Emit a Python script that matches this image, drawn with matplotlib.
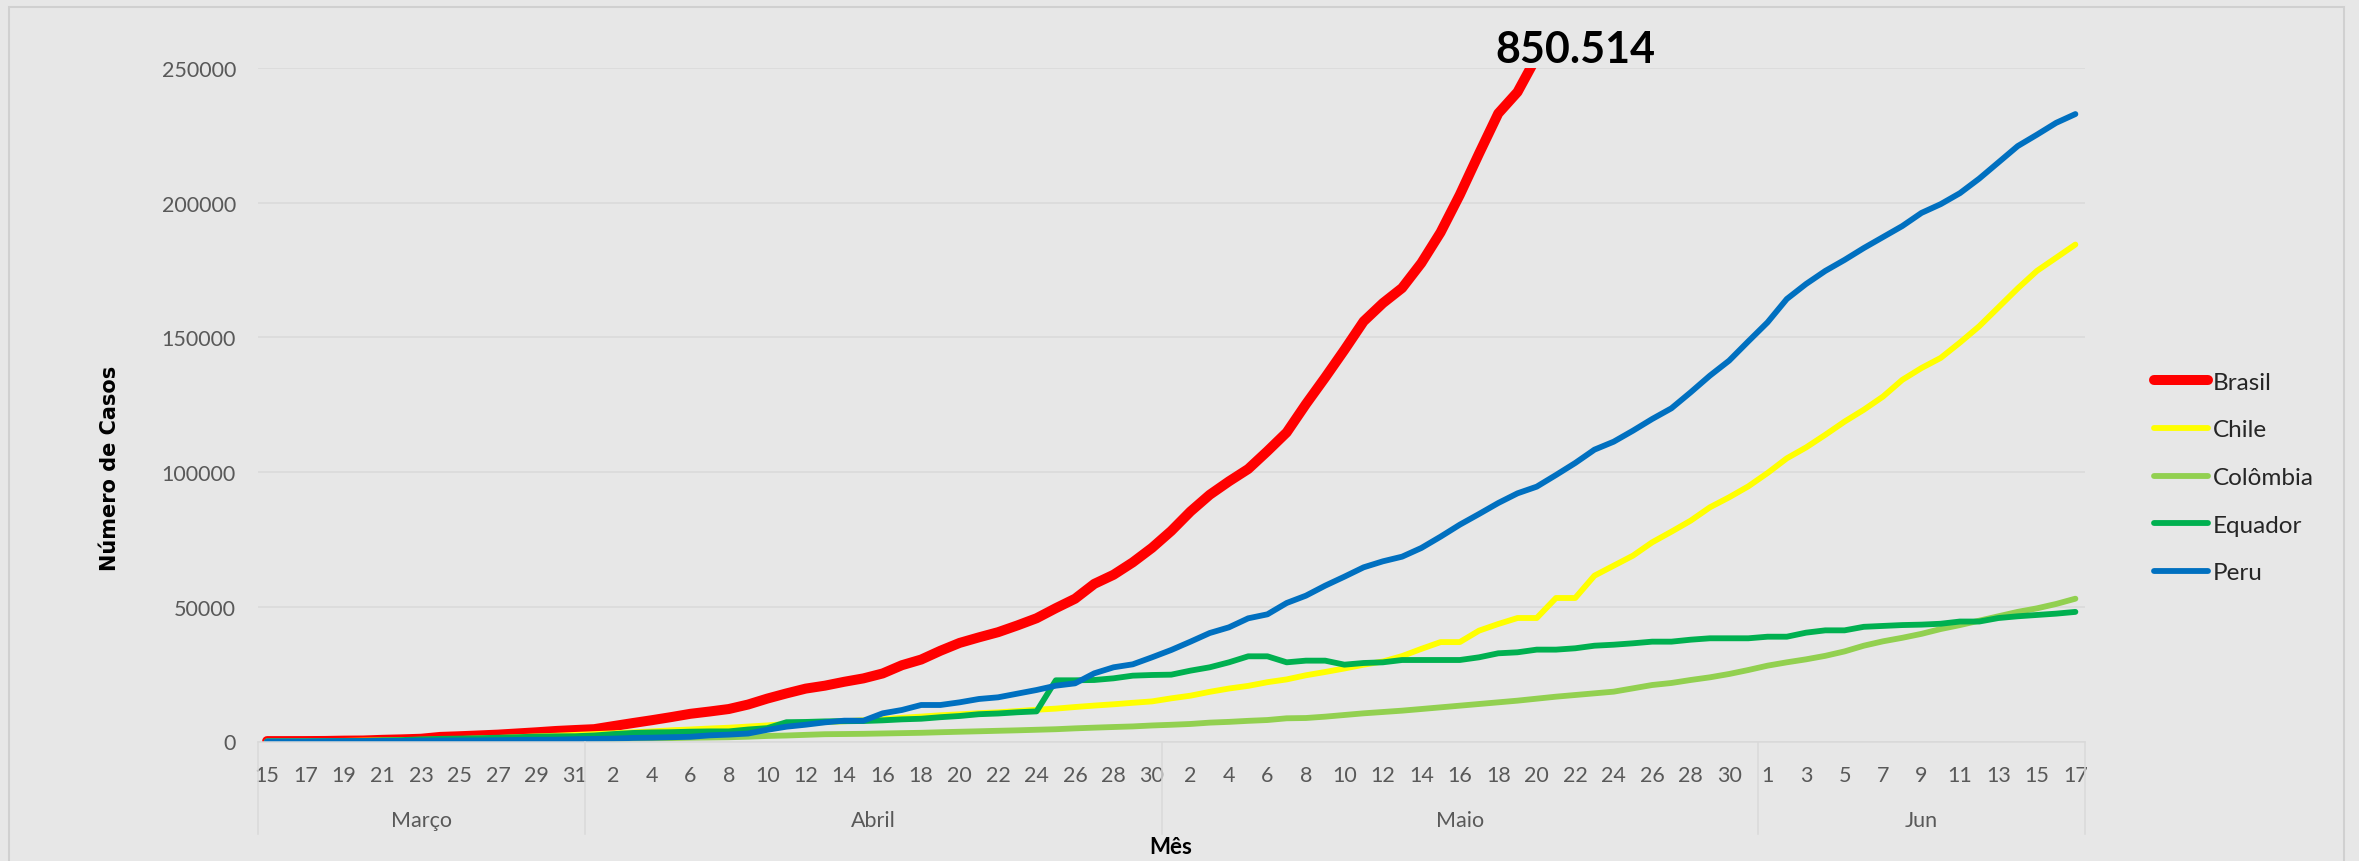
import numpy as np
import matplotlib
matplotlib.use("Agg")
import matplotlib.pyplot as plt
from matplotlib.patches import Rectangle
from matplotlib.ticker import StrMethodFormatter

# categorias: mês e intervalo de dias mostrados
meses = ["Março", "Abril", "Maio", "Jun"]
dias_por_mes = [(15, 31), (1, 30), (1, 31), (1, 17)]

# casos acumulados (Brasil sai do eixo em ~250000)
brasil = [151, 151, 162, 200, 321, 372, 621, 793, 1021, 1700, 1950, 2247, 2554,
          2985, 3417, 3904, 4256, 4579, 5717, 6836, 7910, 9056, 10278, 11130,
          12056, 13717, 15927, 17857, 19638, 20727, 22169, 23430, 25262, 28320,
          30425, 33682, 36599, 38654, 40581, 43079, 45757, 49492, 52995, 58509,
          61888, 66501, 71886, 78162, 85380, 91589, 96559, 101147, 107780,
          114715, 125218, 135106, 145328, 155939, 162699, 168331, 177589,
          188974, 202918, 218223, 233142, 241080, 254220, 271628, 291579,
          310087, 330890, 347398, 363211, 374898, 391222, 411821, 438238,
          465166, 498440, 514849, 526447, 555383, 584016, 614941, 645771,
          672846, 691758, 707412, 739503, 772416, 802828, 828810, 850514]
chile = [61, 75, 156, 201, 238, 342, 434, 537, 632, 746, 922, 1142, 1306, 1610,
         1909, 2139, 2449, 2738, 3031, 3404, 3737, 4161, 4471, 4815, 5116, 5546,
         5972, 6501, 6927, 7213, 7525, 7917, 8273, 8807, 9252, 9730, 10088,
         10507, 10832, 11296, 11800, 12200, 12800, 13331, 13813, 14365, 14885,
         16023, 17008, 18435, 19663, 20643, 22016, 23048, 24581, 25800, 27100,
         28500, 29700, 31700, 34381, 36900, 36900, 41150, 43620, 45840, 45840,
         53270, 53270, 61560, 65270, 68980, 73930, 77880, 81970, 86920, 90640,
         94720, 99670, 105110, 109150, 113840, 118740, 123140, 128030, 134230,
         138630, 142390, 148090, 154130, 161140, 168160, 174680, 179570, 184470]
colombia = [16, 24, 34, 54, 65, 93, 102, 128, 196, 231, 277, 378, 470, 491, 539,
            608, 702, 798, 906, 1065, 1161, 1267, 1406, 1485, 1579, 1780, 2054,
            2223, 2473, 2709, 2776, 2852, 2979, 3105, 3233, 3439, 3621, 3792,
            3977, 4149, 4356, 4561, 4881, 5142, 5379, 5597, 5949, 6207, 6507,
            7006, 7285, 7668, 7973, 8613, 8720, 9220, 9840, 10460, 10950, 11450,
            12060, 12680, 13300, 13920, 14540, 15160, 15900, 16640, 17260, 17880,
            18500, 19730, 20970, 21720, 22830, 23820, 25060, 26540, 28150, 29390,
            30500, 31800, 33440, 35560, 37190, 38490, 39960, 41750, 43220, 44850,
            46480, 48110, 49420, 51050, 53010]
equador = [28, 37, 58, 111, 168, 199, 426, 532, 789, 981, 1082, 1211, 1403, 1595,
           1823, 1924, 1962, 2240, 2748, 3163, 3368, 3465, 3646, 3747, 3747, 4450,
           4965, 7161, 7257, 7466, 7529, 7603, 7858, 8225, 8450, 9022, 9468,
           10128, 10398, 10850, 11183, 22719, 22719, 22830, 23450, 24440, 24690,
           24810, 26300, 27540, 29390, 31620, 31620, 29390, 30010, 30010, 28520,
           29140, 29390, 30250, 30250, 30250, 30250, 31250, 32740, 33110, 34100,
           34100, 34600, 35560, 35930, 36450, 37060, 37060, 37790, 38310, 38310,
           38310, 38900, 38900, 40400, 41260, 41260, 42570, 42900, 43220, 43380,
           43710, 44530, 44530, 45830, 46480, 46970, 47460, 48110]
peru = [28, 38, 43, 86, 117, 145, 234, 234, 318, 363, 395, 416, 480, 580, 635, 671,
        852, 950, 1065, 1323, 1414, 1595, 1746, 2281, 2561, 2954, 4342, 5500,
        6240, 7110, 7730, 7730, 10460, 11700, 13550, 13550, 14540, 15780, 16400,
        17760, 19120, 20720, 21590, 25310, 27540, 28650, 31250, 33970, 37060,
        40270, 42380, 45720, 47210, 51410, 54130, 57840, 61180, 64650, 66880,
        68610, 71830, 76030, 80480, 84450, 88530, 92120, 94600, 98920, 103380,
        108330, 111290, 115370, 119710, 123680, 129610, 135800, 141370, 148550,
        155600, 164260, 169830, 174680, 178760, 183160, 187240, 191320, 196210,
        199470, 203550, 208930, 214960, 221000, 225240, 229640, 232900]

series = [("Brasil", brasil, "#FF0000", 7.2),
          ("Chile", chile, "#FFFF00", 4.2),
          ("Colômbia", colombia, "#92D050", 4.2),
          ("Equador", equador, "#00B050", 4.2),
          ("Peru", peru, "#0070C0", 4.2)]

dias = []
limites = []
for a, b in dias_por_mes:
    limites.append(len(dias))
    dias += [str(d) for d in range(a, b + 1)]
limites.append(len(dias))

W, H = 2359, 862
BG = "#E7E7E7"
GRID = "#D9D9D9"
TXT = "#595959"

plt.rcParams["font.family"] = ["Lato", "DejaVu Sans"]

fig = plt.figure(figsize=(W / 100, H / 100), dpi=100, facecolor=BG)
ax = fig.add_axes([257.5 / W, (H - 742.5) / H, (2085 - 257.5) / W, (742.5 - 69) / H])
ax.set_facecolor(BG)

x = np.arange(len(dias))
for nome, vals, cor, lw in series:
    ax.plot(x[:len(vals)], vals, color=cor, lw=lw, label=nome,
            solid_capstyle="round", solid_joinstyle="round")

ax.set_xlim(-0.5, len(dias) - 0.5)
ax.set_ylim(0, 250000)

for s in ["top", "right", "left"]:
    ax.spines[s].set_visible(False)
ax.spines["bottom"].set_color(GRID)
ax.spines["bottom"].set_linewidth(1.1)

ax.set_yticks(np.arange(0, 250001, 50000))
ax.yaxis.set_major_formatter(StrMethodFormatter("{x:.0f}"))
ax.grid(axis="y", color=GRID, lw=1.1)
ax.set_axisbelow(True)
ax.tick_params(axis="y", length=0, pad=15.5, labelsize=15.5, labelcolor=TXT)

ax.set_xticks(x[::2])
ax.set_xticklabels(dias[::2])
ax.tick_params(axis="x", length=0, pad=17, labelsize=15.5, labelcolor=TXT)

# rótulos dos meses e divisórias
trans = ax.get_xaxis_transform()
for i, mes in enumerate(meses):
    centro = (limites[i] + limites[i + 1] - 1) / 2
    ax.text(centro, -0.1166, mes, transform=trans, ha="center", va="center",
            fontsize=15.5, color=TXT)
for b in limites:
    ax.plot([b - 0.5, b - 0.5], [0, -0.1373], transform=trans, clip_on=False,
            color=GRID, lw=1.1)

ax.annotate(f"{brasil[-1]:,}".replace(",", "."), xy=(68, 250000), xytext=(0, 4.5),
            textcoords="offset points", ha="center", va="baseline",
            fontsize=31, fontweight="bold", annotation_clip=False)

leg = ax.legend(loc="center left", bbox_to_anchor=(2154 / W, (H - 478.5) / H),
                bbox_transform=fig.transFigure, frameon=False, fontsize=17.5,
                handlelength=2.22, handletextpad=0.2, labelspacing=1.09,
                borderpad=0, borderaxespad=0)
for t in leg.get_texts():
    t.set_color("#262626")

fig.text(110 / W, 1 - 468 / H, "Número de Casos", rotation=90, ha="center",
         va="center", fontsize=15, fontweight="bold", family="DejaVu Sans")
fig.text(1171 / W, 1 - 848 / H, "Mês", ha="center", va="center",
         fontsize=16, fontweight="bold")

fig.add_artist(Rectangle((9 / W, -0.01), (2344 - 9) / W, (H - 8) / H + 0.01,
                         transform=fig.transFigure, fill=False,
                         ec="#D0D0D0", lw=1.5))

fig.savefig("out.png", dpi=100, facecolor=BG)
